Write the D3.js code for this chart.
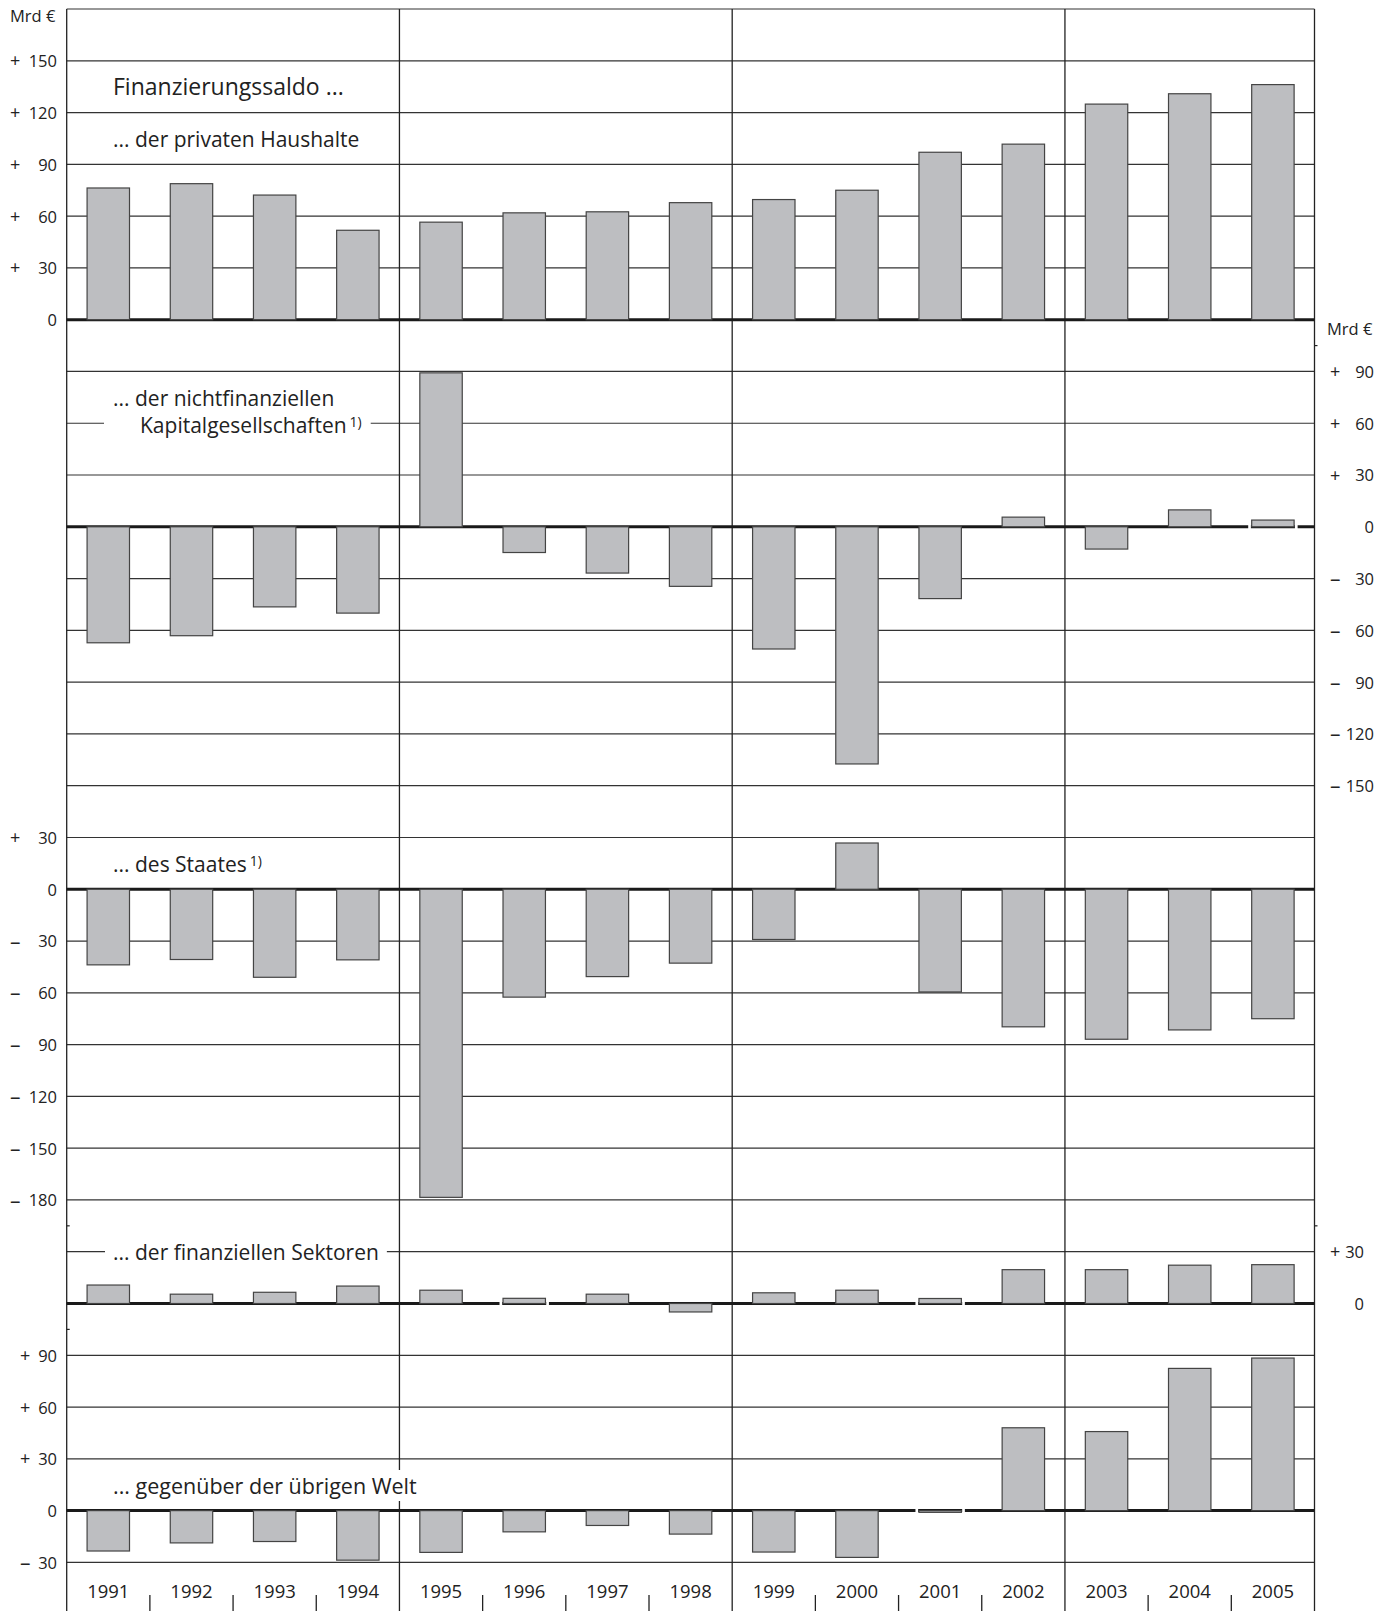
<!DOCTYPE html>
<html><head><meta charset="utf-8">
<script src="https://cdn.jsdelivr.net/npm/d3@7"></script>
<style>
body{margin:0;background:#fff}
svg{display:block}
text{font-family:"Open Sans",sans-serif;fill:#222}
</style>
</head><body>
<svg id="c" width="1389" height="1611"></svg>
<script>
// ---------- data ----------
const years = ["1991","1992","1993","1994","1995","1996","1997","1998","1999","2000","2001","2002","2003","2004","2005"];
const haushalte   = [76.3, 78.8, 72.2, 51.8, 56.5, 61.9, 62.5, 67.8, 69.6, 75.0, 97.0, 101.7, 124.9, 130.9, 136.2];
const nichtfinanz = [-67.2, -63.1, -46.4, -50.0, 89.2, -14.9, -26.8, -34.5, -70.8, -137.4, -41.6, 5.6, -12.9, 9.8, 3.9];
const staat       = [-43.8, -40.7, -51.0, -40.9, -178.5, -62.5, -50.6, -42.8, -29.1, 26.8, -59.5, -79.7, -86.9, -81.5, -75.0];
const finanz      = [10.7, 5.4, 6.5, 10.1, 7.7, 3.0, 5.4, -4.9, 6.2, 7.7, 2.9, 19.6, 19.6, 22.2, 22.5];
const welt        = [-23.4, -18.7, -17.9, -28.7, -24.2, -12.3, -8.6, -13.6, -24.0, -27.1, -1.0, 48.0, 45.8, 82.4, 88.4];

const ticksHH = [150, 120, 90, 60, 30, 0];
const ticksNF = [90, 60, 30, 0, -30, -60, -90, -120, -150];
const ticksST = [30, 0, -30, -60, -90, -120, -150, -180];
const ticksFI = [30, 0];
const ticksWE = [90, 60, 30, 0, -30];
const groupStarts = ["1995", "1999", "2003"];

const unitLabel = "Mrd €";
const title = "Finanzierungssaldo ...";
const labelHH = "... der privaten Haushalte";
const labelNF1 = "... der nichtfinanziellen";
const labelNF2 = "Kapitalgesellschaften";
const labelST = "... des Staates";
const labelFI = "... der finanziellen Sektoren";
const labelWE = "... gegenüber der übrigen Welt";
const footnote = "1)";

// ---------- layout ----------
const X0 = 66.7, X1 = 1314.5, TOP = 9, BOT = 1562.4, YEND = 1611;
const svg = d3.select("#c");
const x = d3.scaleBand().domain(years).range([X0, X1]).paddingInner(0.49).paddingOuter(0.245);
const grid = d3.scaleLinear().domain([0, 30]).range([TOP, BOT]);
const gap = (x.step() - x.bandwidth()) / 2;
const boundary = yr => x(yr) - gap;

const panels = [
  {values: haushalte,   zeroK: 6,  ticks: ticksHH, signX: 10,   numX: 57},
  {values: nichtfinanz, zeroK: 10, ticks: ticksNF, signX: 1330, numX: 1374},
  {values: staat,       zeroK: 17, ticks: ticksST, signX: 10,   numX: 57},
  {values: finanz,      zeroK: 25, ticks: ticksFI, signX: 1330, numX: 1364},
  {values: welt,        zeroK: 29, ticks: ticksWE, signX: 20,   numX: 57},
];
panels.forEach(p => {
  p.y = d3.scaleLinear().domain([0, -30]).range([grid(p.zeroK), grid(p.zeroK + 1)]);
});

const gGrid = svg.append("g");
const gMask = svg.append("g");
const gBars = svg.append("g");
const gText = svg.append("g");

// horizontal gridlines
gGrid.selectAll("line.h").data(d3.range(0, 31)).join("line")
  .attr("x1", X0).attr("x2", X1)
  .attr("y1", k => grid(k)).attr("y2", k => grid(k))
  .attr("stroke", "#333").attr("stroke-width", 1.2);

// vertical separators and borders
const verticals = [X0, X1].concat(groupStarts.map(boundary));
gGrid.selectAll("line.v").data(verticals).join("line")
  .attr("x1", d => d).attr("x2", d => d).attr("y1", TOP).attr("y2", YEND)
  .attr("stroke", "#222").attr("stroke-width", 1.3);

// minor ticks between years at the bottom
const minor = years.slice(1).filter(yr => !groupStarts.includes(yr)).map(boundary);
gGrid.selectAll("line.m").data(minor).join("line")
  .attr("x1", d => d).attr("x2", d => d).attr("y1", 1595).attr("y2", YEND)
  .attr("stroke", "#222").attr("stroke-width", 1.3);

// small stubs marking axis ends
[[X0, 23.5], [X0, 25.5], [X1, 6.5], [X1, 23.5]].forEach(([xx, k]) => {
  gGrid.append("line").attr("x1", xx).attr("x2", xx + 3)
    .attr("y1", grid(k)).attr("y2", grid(k)).attr("stroke", "#222").attr("stroke-width", 1.2);
});

// zero lines
gGrid.selectAll("line.z").data(panels).join("line")
  .attr("x1", X0).attr("x2", X1)
  .attr("y1", p => p.y(0)).attr("y2", p => p.y(0))
  .attr("stroke", "#1a1a1a").attr("stroke-width", 3);

// bars
panels.forEach(p => {
  const data = years.map((yr, i) => ({yr, v: p.values[i]}));
  // white gaps in zero line beside very small bars
  data.filter(d => Math.abs(d.v) < 4.5).forEach(d => {
    [x(d.yr) - 3.5, x(d.yr) + x.bandwidth() + 0.8].forEach(xx => {
      gBars.append("rect").attr("x", xx).attr("width", 2.7)
        .attr("y", p.y(0) - 2.5).attr("height", 5).attr("fill", "#fff");
    });
  });
  gBars.selectAll(null).data(data).join("rect")
    .attr("x", d => x(d.yr))
    .attr("width", x.bandwidth())
    .attr("y", d => Math.min(p.y(d.v), p.y(0)))
    .attr("height", d => Math.abs(p.y(d.v) - p.y(0)))
    .attr("fill", "#bdbec1")
    .attr("stroke", "#444")
    .attr("stroke-width", 1.2);
});

// axes (numbers) + signs
panels.forEach(p => {
  const ax = gText.append("g").attr("transform", `translate(${p.numX},0)`)
    .call(d3.axisLeft(p.y).tickValues(p.ticks).tickSize(0).tickPadding(0).tickFormat(d => Math.abs(d)));
  ax.select(".domain").remove();
  ax.attr("font-family", null).attr("font-size", null);
  ax.selectAll("text").attr("font-size", 16.5).attr("fill", "#222").attr("dy", "0.36em");
  gText.selectAll(null).data(p.ticks.filter(t => t !== 0)).join("text")
    .attr("x", p.signX).attr("y", d => p.y(d)).attr("dy", "0.36em")
    .attr("font-size", d => d > 0 ? 18 : 21).text(d => d > 0 ? "+" : "–");
});

// unit labels
gText.append("text").attr("x", 10).attr("y", 22).attr("font-size", 16.5).text(unitLabel);
gText.append("text").attr("x", 1327).attr("y", 335).attr("font-size", 16.5).text(unitLabel);

// year labels
gText.selectAll(null).data(years).join("text")
  .attr("x", d => x(d) + x.bandwidth() / 2).attr("y", 1598)
  .attr("text-anchor", "middle").attr("font-size", 18.5).text(d => d);

// panel labels
function label(xx, yy, txt, size, sup) {
  const t = gText.append("text").attr("x", xx).attr("y", yy).attr("font-size", size);
  t.append("tspan").text(txt);
  if (sup) t.append("tspan").attr("font-size", 14).attr("dx", 3).attr("dy", -6).text(sup);
  return t;
}
function mask(nodes, padX, padY) {
  let b = null;
  nodes.forEach(n => {
    const bb = n.node().getBBox();
    if (!b) b = {x0: bb.x, y0: bb.y, x1: bb.x + bb.width, y1: bb.y + bb.height};
    else { b.x0 = Math.min(b.x0, bb.x); b.y0 = Math.min(b.y0, bb.y); b.x1 = Math.max(b.x1, bb.x + bb.width); b.y1 = Math.max(b.y1, bb.y + bb.height); }
  });
  gMask.append("rect").attr("x", b.x0 - padX).attr("y", b.y0 - padY)
    .attr("width", b.x1 - b.x0 + 2 * padX).attr("height", b.y1 - b.y0 + 2 * padY).attr("fill", "#fff");
}
label(113, 95, title, 23);
label(113, 147, labelHH, 21);
const nf1 = label(113, 406, labelNF1, 21);
const nf2 = label(140, 433, labelNF2, 21, footnote);
mask([nf1, nf2], 9, 2);
label(113, 872, labelST, 21, footnote);
const fi = label(113, 1260, labelFI, 21);
mask([fi], 8, 2);
const we = label(113, 1494, labelWE, 21.5);
mask([we], 8, 1);
</script>
</body></html>
